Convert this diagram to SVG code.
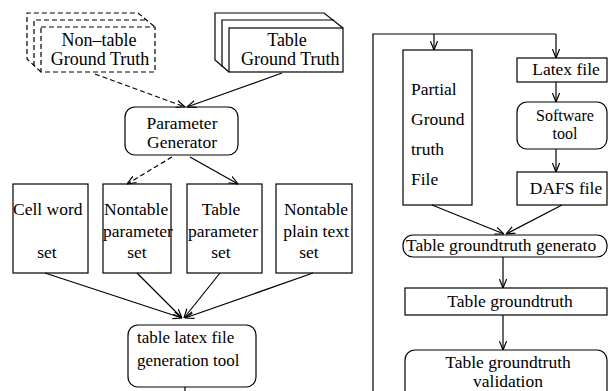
<svg xmlns="http://www.w3.org/2000/svg" width="608" height="391" viewBox="0 0 608 391">
<defs>
<style>
.b{fill:#fff;stroke:#000;stroke-width:1.2}
.n{fill:none;stroke:#000;stroke-width:1.2}
.d{fill:none;stroke:#000;stroke-width:1.2;stroke-dasharray:5 3}
text{font-family:'Liberation Serif','DejaVu Serif',serif;fill:#000}
.h{font-size:18px}
.t{font-size:17.5px}
.u{font-size:17px}
.r{font-size:17.5px}
.s{font-size:16px}
.m{text-anchor:middle}
</style>
<marker id="a" viewBox="0 0 10 10" refX="10" refY="5" markerWidth="9" markerHeight="9" markerUnits="userSpaceOnUse" orient="auto">
<path d="M0,1 L10,5 L0,9" fill="none" stroke="#000" stroke-width="1.3"/>
</marker>
</defs>
<rect width="608" height="391" fill="#fff"/>

<g id="nontable-gt">
<path class="d" d="M34,66 L34,20 L147,20"/>
<path class="d" d="M41,72 L27,59 L27,13 L138,13 L155,27"/>
<rect class="d" x="41" y="27" width="114" height="45" fill="#fff"/>
<text class="h m" x="99" y="46">Non–table</text>
<text class="h m" x="100" y="65">Ground Truth</text>
</g>

<g id="table-gt">
<path class="n" d="M222,67 L222,20 L334,20"/>
<path class="n" d="M229,72 L215,60 L215,13 L324,13 L343,28"/>
<rect class="b" x="229" y="28" width="114" height="44"/>
<text class="h m" x="287" y="46">Table</text>
<text class="h" x="241" y="65">Ground Truth</text>
</g>

<g id="param-gen">
<rect class="b" x="125" y="107" width="113" height="48" rx="10"/>
<text class="t m" x="182" y="129">Parameter</text>
<text class="t m" x="182" y="148">Generator</text>
</g>

<g id="cell-word">
<rect class="b" x="13" y="184" width="75" height="89"/>
<text class="t" x="13" y="215">Cell word</text>
<text class="t m" x="47" y="258">set</text>
</g>

<g id="nontable-param">
<rect class="b" x="103" y="184" width="68" height="89"/>
<text class="t" x="104" y="215">Nontable</text>
<text class="t" x="103" y="237">parameter</text>
<text class="t m" x="137" y="258">set</text>
</g>

<g id="table-param">
<rect class="b" x="187" y="184" width="75" height="89"/>
<text class="t m" x="221" y="215">Table</text>
<text class="t m" x="223" y="237">parameter</text>
<text class="t m" x="221" y="258">set</text>
</g>

<g id="nontable-plain">
<rect class="b" x="276" y="184" width="76" height="89"/>
<text class="t m" x="316" y="215">Nontable</text>
<text class="t m" x="316" y="237">plain text</text>
<text class="t m" x="309" y="258">set</text>
</g>

<g id="latex-tool">
<rect class="b" x="128" y="325" width="128" height="62" rx="10"/>
<text class="u" x="137" y="343">table latex file</text>
<text class="u" x="137" y="366">generation tool</text>
</g>

<g id="partial-gt">
<rect class="b" x="403" y="50" width="69" height="155"/>
<text class="r" x="411" y="95">Partial</text>
<text class="r" x="411" y="125">Ground</text>
<text class="r" x="411" y="155">truth</text>
<text class="r" x="411" y="185">File</text>
</g>

<g id="latex-file">
<rect class="b" x="517" y="58" width="90" height="24"/>
<text class="r m" x="566" y="75">Latex file</text>
</g>

<g id="software-tool">
<rect class="b" x="517" y="102" width="90" height="47" rx="10"/>
<text class="s m" x="565" y="121">Software</text>
<text class="s m" x="565" y="139">tool</text>
</g>

<g id="dafs-file">
<rect class="b" x="517" y="172" width="90" height="33"/>
<text class="r m" x="566" y="194">DAFS file</text>
</g>

<g id="tgt-gen">
<rect class="b" x="403" y="235" width="204" height="22" rx="10"/>
<text class="r" x="406" y="251">Table groundtruth generato</text>
</g>

<g id="tgt">
<rect class="b" x="405" y="288" width="202" height="27"/>
<text class="r m" x="510" y="307">Table groundtruth</text>
</g>

<g id="tgt-valid">
<rect class="b" x="405" y="350" width="202" height="55" rx="10"/>
<text class="r m" x="508" y="368">Table groundtruth</text>
<text class="r m" x="508" y="387">validation</text>
</g>

<g id="connectors">
<line class="d" x1="95" y1="74" x2="185" y2="107" marker-end="url(#a)"/>
<line class="n" x1="282" y1="73" x2="187" y2="107" marker-end="url(#a)"/>
<line class="d" x1="172" y1="157" x2="127" y2="184" marker-end="url(#a)"/>
<line class="n" x1="190" y1="157" x2="238" y2="184" marker-end="url(#a)"/>
<line class="n" x1="45" y1="273" x2="182" y2="318" marker-end="url(#a)"/>
<line class="n" x1="137" y1="273" x2="182" y2="318" marker-end="url(#a)"/>
<line class="n" x1="220" y1="273" x2="184" y2="318" marker-end="url(#a)"/>
<line class="n" x1="313" y1="273" x2="185" y2="318" marker-end="url(#a)"/>
<line class="n" x1="185" y1="387" x2="185" y2="391"/>
<path class="n" d="M373,391 L373,34 L556,34"/>
<line class="n" x1="434" y1="34" x2="434" y2="50" marker-end="url(#a)"/>
<line class="n" x1="556" y1="34" x2="556" y2="58" marker-end="url(#a)"/>
<line class="n" x1="556" y1="82" x2="556" y2="102" marker-end="url(#a)"/>
<line class="n" x1="556" y1="149" x2="556" y2="172" marker-end="url(#a)"/>
<line class="n" x1="432" y1="205" x2="504" y2="234" marker-end="url(#a)"/>
<line class="n" x1="562" y1="205" x2="506" y2="234" marker-end="url(#a)"/>
<line class="n" x1="503" y1="257" x2="503" y2="288" marker-end="url(#a)"/>
<line class="n" x1="503" y1="315" x2="503" y2="350" marker-end="url(#a)"/>
</g>
</svg>
